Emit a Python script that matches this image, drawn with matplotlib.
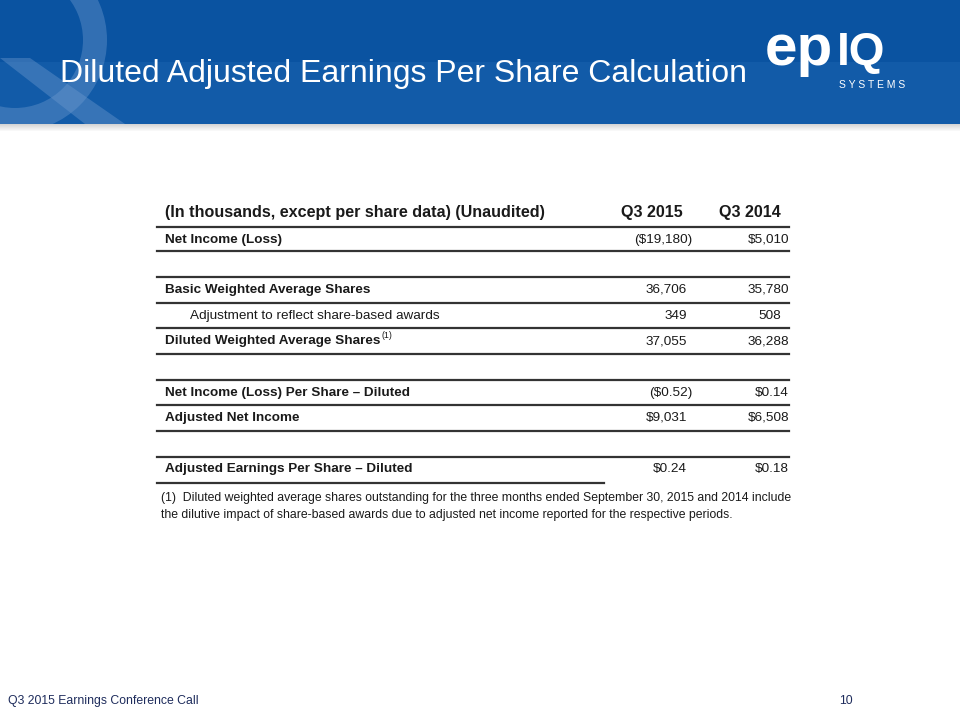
import matplotlib
matplotlib.use("Agg")
import matplotlib.pyplot as plt
from matplotlib.patches import Rectangle, Wedge, Polygon
import numpy as np

plt.rcParams['font.family'] = ['Liberation Sans', 'DejaVu Sans']

title = "Diluted Adjusted Earnings Per Share Calculation"
header = ["(In thousands, except per share data) (Unaudited)", "Q3 2015", "Q3 2014"]
row_labels = ["Net Income (Loss)", None, "Basic Weighted Average Shares",
              "Adjustment to reflect share-based awards",
              "Diluted Weighted Average Shares", None,
              "Net Income (Loss) Per Share \u2013 Diluted", "Adjusted Net Income", None,
              "Adjusted Earnings Per Share \u2013 Diluted"]
q3_2015 = ["($19,180)", None, "36,706", "349", "37,055", None, "($0.52)", "$9,031", None, "$0.24"]
q3_2014 = ["$5,010", None, "35,780", "508", "36,288", None, "$0.14", "$6,508", None, "$0.18"]
row_bold = [True, None, True, False, True, None, True, True, None, True]
footnote = ("(1)  Diluted weighted average shares outstanding for the three months ended September 30, 2015 and 2014 include\n"
            "the dilutive impact of share-based awards due to adjusted net income reported for the respective periods.")
footer_left = "Q3 2015 Earnings Conference Call"
page_no = "10"

W, H = 960, 720
fig = plt.figure(figsize=(9.6, 7.2), dpi=100)
ax = fig.add_axes([0, 0, 1, 1])
ax.set_xlim(0, W)
ax.set_ylim(H, 0)
ax.axis('off')

# Banner
blue = '#0a53a1'
ax.add_patch(Rectangle((0, 0), W, 124, facecolor=blue, edgecolor='none', zorder=1))
ax.add_patch(Rectangle((0, 62), W, 62, facecolor='#1862ae', edgecolor='none', alpha=0.6, zorder=1))
# shadow
for i, a in enumerate(np.linspace(0.35, 0.0, 8)):
    ax.add_patch(Rectangle((0, 124 + i), W, 1, facecolor='#888888', edgecolor='none', alpha=a, zorder=1))

# watermark Q
clip = Rectangle((0, 0), W, 124, transform=ax.transData, visible=False)
ax.add_patch(clip)
w = Wedge((15, 40), 92, 0, 360, width=24, facecolor='#6f9bd0', edgecolor='none', alpha=0.4, zorder=2)
ax.add_patch(w)
w.set_clip_path(clip)
tail = Polygon([[0, 58], [30, 58], [125, 124], [85, 124]], closed=True,
               facecolor='#6f9bd0', edgecolor='none', alpha=0.4, zorder=2)
ax.add_patch(tail)
tail.set_clip_path(clip)

ax.text(60, 74, title, color='white', fontsize=23, va='center', ha='left', zorder=5)

# logo
ax.text(765, 65, "ep", color='white', fontsize=42, fontweight='bold', va='baseline', ha='left', zorder=5)
ax.text(837, 65, "IQ", color='white', fontsize=33, fontweight='bold', va='baseline', ha='left', zorder=5)
ax.text(905, 85, "S Y S T E M S", color='white', fontsize=7.5, va='center', ha='right', zorder=5)

# table
x0, x1 = 157, 789
c1, c2 = 692, 789
lc = '#333333'
tc = '#1a1a1a'
ax.text(165, 212, header[0], fontsize=11.6, fontweight='bold', va='center', ha='left', color=tc)
ax.text(683, 212, header[1], fontsize=11.6, fontweight='bold', va='center', ha='right', color=tc)
ax.text(781, 212, header[2], fontsize=11.6, fontweight='bold', va='center', ha='right', color=tc)
ax.plot([x0, x1], [226.5, 226.5], color=lc, lw=1.6)

fig.canvas.draw()
renderer = fig.canvas.get_renderer()
inv = ax.transData.inverted()

row_y = [240, None, 290, 316, 341, None, 393, 418, None, 469]
for i, lab in enumerate(row_labels):
    if lab is None:
        continue
    y = row_y[i]
    xl = 165 if row_bold[i] else 190
    fw = 'bold' if row_bold[i] else 'normal'
    t = ax.text(xl, y, lab, fontsize=9.7, fontweight=fw, va='center', ha='left', color=tc)
    if lab.startswith("Diluted Weighted"):
        bb = t.get_window_extent(renderer=renderer)
        xe = inv.transform((bb.x1, bb.y1))[0]
        ax.text(xe + 1, y - 5, "(1)", fontsize=6.3, va='center', ha='left', color=tc)
    ax.text(c1 if q3_2015[i].endswith(')') else 687, y, q3_2015[i], fontsize=9.7, va='center', ha='right', color=tc)
    ax.text(c2 if not q3_2014[i].isdigit() else 781, y, q3_2014[i], fontsize=9.7, va='center', ha='right', color=tc)

for y in [251, 277, 303, 328, 354, 380, 405, 431, 457]:
    ax.plot([x0, x1], [y, y], color=lc, lw=1.6)
ax.plot([x0, 604], [483, 483], color=lc, lw=1.6)

ax.text(161, 506.5, footnote, fontsize=8.8, va='center', ha='left', color=tc, linespacing=1.55)

ax.text(8, 701, footer_left, fontsize=8.8, va='center', ha='left', color='#1e2c5c')
ax.text(853, 701, page_no, fontsize=8.8, va='center', ha='right', color='#1e2c5c')

fig.savefig('out.png', dpi=100)
